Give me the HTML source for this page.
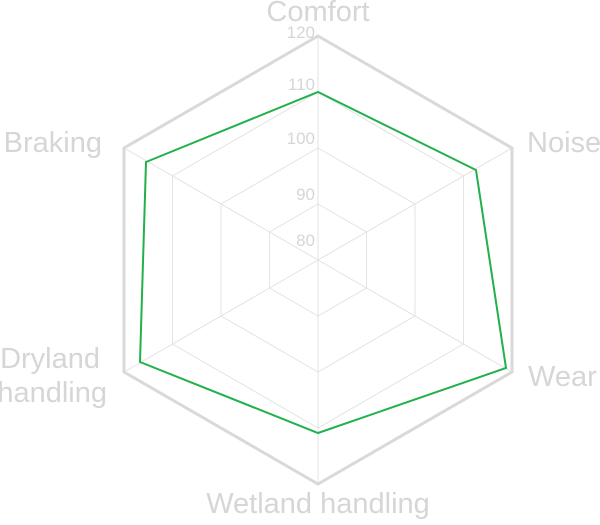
<!DOCTYPE html>
<html><head><style>
html,body{margin:0;padding:0;background:#fff;}
svg text{font-family:"Liberation Sans",sans-serif;fill:#d6d6d6;}
</style></head><body>
<svg width="600" height="520" viewBox="0 0 600 520" xmlns="http://www.w3.org/2000/svg">
<g fill="none" stroke="#e3e3e3" stroke-width="1">
<polygon points="318,204 366.5,232 366.5,288 318,316 269.5,288 269.5,232"/>
<polygon points="318,148 415,204 415,316 318,372 221,316 221,204"/>
<polygon points="318,92 463.5,176 463.5,344 318,428 172.5,344 172.5,176"/>
<line x1="318" y1="260" x2="318" y2="36"/>
<line x1="318" y1="260" x2="512" y2="148"/>
<line x1="318" y1="260" x2="512" y2="372"/>
<line x1="318" y1="260" x2="318" y2="484"/>
<line x1="318" y1="260" x2="124" y2="372"/>
<line x1="318" y1="260" x2="124" y2="148"/>
</g>
<polygon points="318,36 512,148 512,372 318,484 124,372 124,148" fill="none" stroke="#d9d9d9" stroke-width="3"/>
<polygon points="318,92 476,170 506,368 318,433 140,362 146,162" fill="none" stroke="#22b04b" stroke-width="2"/>
<g font-size="17" text-anchor="end" style="fill:#dcdcdc">
<text x="315" y="246">80</text>
<text x="315" y="200">90</text>
<text x="315" y="144">100</text>
<text x="315" y="90">110</text>
<text x="315" y="38">120</text>
</g>
<g font-size="29">
<text x="318" y="21" text-anchor="middle">Comfort</text>
<text x="527" y="152">Noise</text>
<text x="528" y="386">Wear</text>
<text x="318" y="513" text-anchor="middle">Wetland handling</text>
<text x="102" y="152" text-anchor="end">Braking</text>
<text x="100" y="368" text-anchor="end">Dryland</text>
<text x="107" y="402" text-anchor="end">handling</text>
</g>
</svg>
</body></html>
